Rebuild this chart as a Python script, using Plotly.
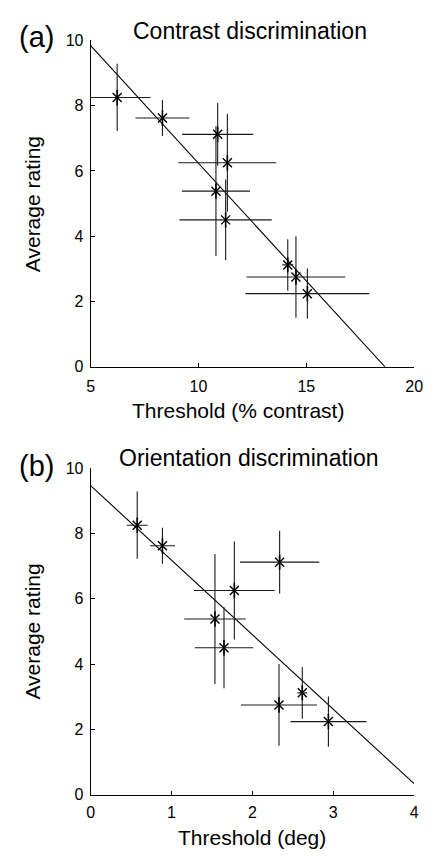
import plotly.graph_objects as go

# Shared ratings (9 observers/conditions)
rating = [8.25, 7.62, 7.12, 6.25, 5.38, 4.50, 3.12, 2.75, 2.24]
rating_err = [1.03, 0.55, 0.96, 1.50, 1.99, 1.24, 0.79, 1.25, 0.77]

# (a) Contrast discrimination thresholds (% contrast)
contrast_thr = [6.23, 8.33, 10.89, 11.34, 10.81, 11.26, 14.14, 14.52, 15.05]
contrast_err = [1.54, 1.25, 1.65, 2.27, 1.58, 2.14, 0.25, 2.29, 2.87]
contrast_fit_slope = -0.721
contrast_fit_intercept = 13.445

# (b) Orientation discrimination thresholds (deg)
orient_thr = [0.576, 0.888, 2.337, 1.777, 1.537, 1.649, 2.617, 2.329, 2.94]
orient_err = [0.13, 0.155, 0.49, 0.50, 0.38, 0.36, 0.06, 0.47, 0.47]
orient_fit_slope = -2.28
orient_fit_intercept = 9.46

a_xticks = [5, 10, 15, 20]
b_xticks = [0, 1, 2, 3, 4]
yticks = [0, 2, 4, 6, 8, 10]

W, H = 437, 859
FONT = "Liberation Sans, Arial, Helvetica, sans-serif"
INK = "#000000"

fig = go.Figure()

def add_panel(xs, xe, xa, ya):
    fig.add_trace(go.Scatter(
        x=xs, y=rating, mode="markers", xaxis=xa, yaxis=ya,
        marker=dict(symbol="x-thin-open", size=9, line=dict(width=1.4, color=INK), color=INK),
        error_x=dict(type="data", array=xe, visible=True, width=0, thickness=1.1, color="#1a1a1a"),
        error_y=dict(type="data", array=rating_err, visible=True, width=0, thickness=1.1, color="#1a1a1a"),
        cliponaxis=True, showlegend=False, hoverinfo="skip"))
    # vertical arm of the asterisk
    fig.add_trace(go.Scatter(
        x=xs, y=rating, mode="markers", xaxis=xa, yaxis=ya,
        marker=dict(symbol="line-ns-open", size=11, color=INK, line=dict(width=1.6, color=INK)),
        showlegend=False, hoverinfo="skip"))

def add_fit(x0, x1, slope, intercept, xa, ya):
    y0 = intercept + slope * x0
    y1 = intercept + slope * x1
    if y1 < 0:
        x1 = -intercept / slope
        y1 = 0
    fig.add_trace(go.Scatter(x=[x0, x1], y=[y0, y1], mode="lines", xaxis=xa, yaxis=ya,
                             line=dict(color=INK, width=1.1), showlegend=False, hoverinfo="skip"))

add_fit(5, 20, contrast_fit_slope, contrast_fit_intercept, "x", "y")
add_panel(contrast_thr, contrast_err, "x", "y")
add_fit(0, 4, orient_fit_slope, orient_fit_intercept, "x2", "y2")
add_panel(orient_thr, orient_err, "x2", "y2")

xd = [89.3 / W, 422.7 / W]
ya_dom = [1 - 366 / H, 1 - 33 / H]
yb_dom = [1 - 802.7 / H, 1 - 469.3 / H]

axis_common = dict(showline=True, linecolor=INK, linewidth=1, ticks="inside", ticklen=4,
                   tickcolor=INK, tickwidth=1, showgrid=False, zeroline=False,
                   tickfont=dict(family=FONT, size=16, color=INK), mirror=False)

fig.update_layout(
    width=W, height=H, margin=dict(l=0, r=0, t=0, b=0),
    paper_bgcolor="white", plot_bgcolor="white",
    xaxis=dict(domain=xd, range=[5, 20], tickvals=a_xticks, anchor="y",
               ticklabelstandoff=5, **axis_common),
    yaxis=dict(domain=ya_dom, range=[0, 10], tickvals=yticks, anchor="x",
               ticklabelstandoff=3, **axis_common),
    xaxis2=dict(domain=xd, range=[0, 4], tickvals=b_xticks, anchor="y2",
                ticklabelstandoff=3, **axis_common),
    yaxis2=dict(domain=yb_dom, range=[0, 10], tickvals=yticks, anchor="x2",
                ticklabelstandoff=3, **axis_common),
)

def ann(text, x, y, size, xanchor="center", yanchor="middle", angle=0):
    fig.add_annotation(text=text, x=x / W, y=1 - y / H, xref="paper", yref="paper",
                       showarrow=False, xanchor=xanchor, yanchor=yanchor, textangle=angle,
                       font=dict(family=FONT, size=size, color=INK))

ann("Contrast discrimination", 254, 23, 23)
ann("Orientation discrimination", 253, 459, 23)
ann("Threshold (% contrast)", 241, 411, 21)
ann("Threshold (deg)", 256, 846, 21)
ann("Average rating", 29, 200, 21, angle=-90)
ann("Average rating", 29, 636, 21, angle=-90)
ann("(a)", 33, 30, 29)
ann("(b)", 33, 467, 29)

fig.write_html("out.html")
